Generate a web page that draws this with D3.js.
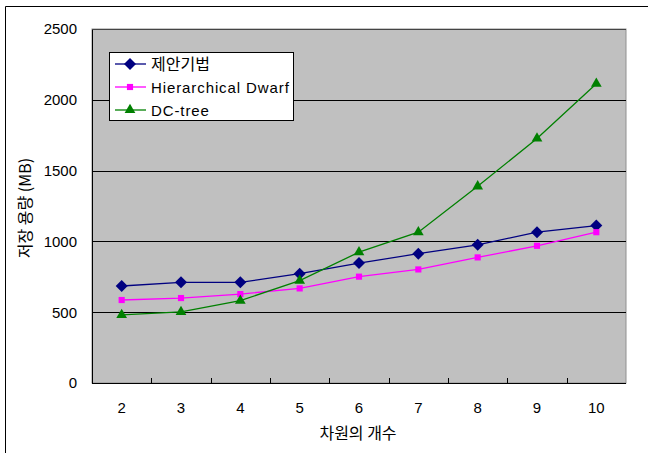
<!DOCTYPE html>
<html><head><meta charset="utf-8">
<script src="https://cdn.jsdelivr.net/npm/d3@7"></script>
<style>body{margin:0;background:#fff}svg{display:block}text{font-family:"Liberation Sans","Noto Sans CJK KR",sans-serif}</style>
</head><body><svg id="c" width="648" height="453"></svg>
<script>
const categories = [2,3,4,5,6,7,8,9,10];
const seriesNames = ["제안기법","Hierarchical Dwarf","DC-tree"];
const proposed = [685,711,711,772,847,913,976,1065,1112];
const hDwarf = [586,600,628,668,751,802,887,969,1065];
const dcTree = [481,502,582,723,924,1065,1389,1727,2114];
const yTicks = [0,500,1000,1500,2000,2500];

const svg = d3.select("#c");
const L=92,R=626,T=29,B=383;
const x = d3.scaleBand().domain(categories).range([L,R]);
const y = d3.scaleLinear().domain([0,2500]).range([B,T]);
const kfont = '"Noto Sans CJK KR","Liberation Sans",sans-serif';

// outer frame
svg.append("path").attr("d","M5.5,453 V6.5 H648").attr("fill","none").attr("stroke","#000").attr("stroke-width",1);

svg.append("rect").attr("x",L).attr("y",T).attr("width",R-L).attr("height",B-T).attr("fill","#c0c0c0").attr("stroke","#909090");

svg.selectAll(".grid").data(yTicks.filter(d=>d>0&&d<2500)).join("line")
  .attr("x1",L).attr("x2",R).attr("y1",d=>Math.round(y(d))+0.5).attr("y2",d=>Math.round(y(d))+0.5)
  .attr("stroke","#000").attr("stroke-width",1);

// axes
const xAxis = d3.axisBottom(x).tickSize(0).tickPadding(19);
const gx = svg.append("g").attr("transform",`translate(0,${B})`).call(xAxis);
gx.select(".domain").remove();
gx.selectAll("text").attr("font-size",15).attr("fill","#000");
svg.selectAll(".xt").data(categories.slice(1)).join("line")
  .attr("x1",d=>Math.round(x(d))+0.5).attr("x2",d=>Math.round(x(d))+0.5).attr("y1",B-5).attr("y2",B).attr("stroke","#000");

const yAxis = d3.axisLeft(y).tickValues(yTicks).tickFormat(d3.format("d")).tickSize(0).tickPadding(15);
const gy = svg.append("g").attr("transform",`translate(${L},0)`).call(yAxis);
gy.select(".domain").remove();
gy.selectAll("text").attr("font-size",15).attr("fill","#000");

svg.append("line").attr("x1",L+0.5).attr("x2",L+0.5).attr("y1",T).attr("y2",B).attr("stroke","#000");
svg.append("line").attr("x1",L).attr("x2",R).attr("y1",B+0.5).attr("y2",B+0.5).attr("stroke","#000");
svg.append("line").attr("x1",L).attr("x2",R).attr("y1",T+0.5).attr("y2",T+0.5).attr("stroke","#444");

// labels
svg.append("text").attr("x",358).attr("y",439).attr("text-anchor","middle").attr("font-size",16).style("font-family",kfont).text("차원의 개수");
svg.append("text").attr("transform","translate(31,208) rotate(-90)").attr("text-anchor","middle").attr("font-size",16).style("font-family",kfont).text("저장 용량 (MB)");

const cx = d=>x(d)+x.bandwidth()/2;
const diamond = {draw(ctx,size){const r=Math.sqrt(size/2);ctx.moveTo(0,-r);ctx.lineTo(r,0);ctx.lineTo(0,r);ctx.lineTo(-r,0);ctx.closePath();}};
const series = [
  {vals:proposed,color:"#000080",sym:diamond,size:72},
  {vals:hDwarf,color:"#ff00ff",sym:d3.symbolSquare,size:38},
  {vals:dcTree,color:"#008000",sym:d3.symbolTriangle,size:50}
];
const line = d3.line().x((d,i)=>cx(categories[i])).y(d=>y(d));
series.forEach(s=>{
  svg.append("path").datum(s.vals).attr("d",line).attr("fill","none").attr("stroke",s.color).attr("stroke-width",1.3);
  svg.selectAll(null).data(s.vals).join("path")
    .attr("d",d3.symbol().type(s.sym).size(s.size))
    .attr("transform",(d,i)=>`translate(${cx(categories[i])},${y(d)})`)
    .attr("fill",s.color);
});

// legend
const lg = svg.append("g");
lg.append("rect").attr("x",109.5).attr("y",52.5).attr("width",184).attr("height",68).attr("fill","#fff").attr("stroke","#000");
const rowY = [64,87,110];
series.forEach((s,i)=>{
  const yy = rowY[i];
  lg.append("line").attr("x1",115).attr("x2",146).attr("y1",yy).attr("y2",yy).attr("stroke",s.color).attr("stroke-width",1.3);
  lg.append("path").attr("d",d3.symbol().type(s.sym).size(s.size)).attr("transform",`translate(130,${yy})`).attr("fill",s.color);
  const t = lg.append("text").attr("x",151).attr("y",yy+5.5).attr("font-size",i===0?16:15).text(seriesNames[i]);
  if(i===0) t.style("font-family",kfont); else t.attr("letter-spacing",0.9);
});
</script></body></html>
